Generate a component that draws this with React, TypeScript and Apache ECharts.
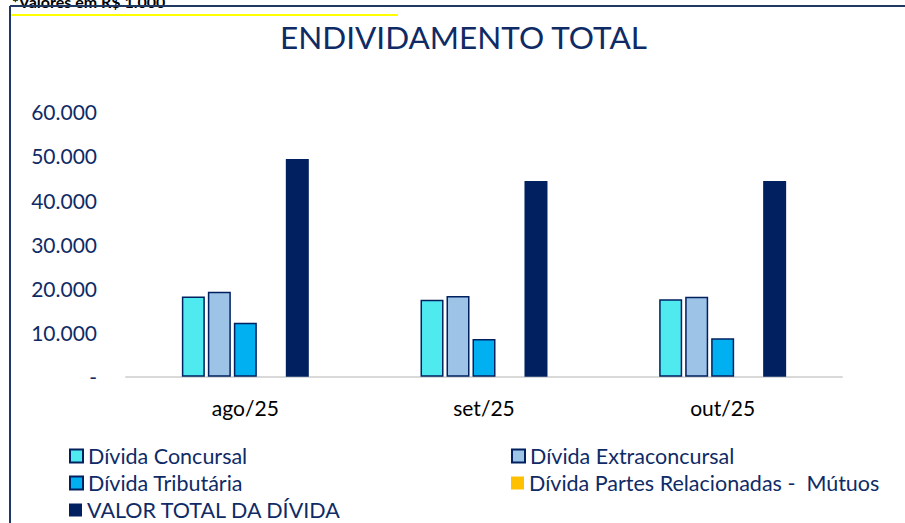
import React, { useEffect, useRef } from "react";
import * as echarts from "echarts";

const categories = ["ago/25", "set/25", "out/25"];
const seriesNames = [
  "Dívida Concursal",
  "Dívida Extraconcursal",
  "Dívida Tributária",
  "Dívida Partes Relacionadas -  Mútuos",
  "VALOR TOTAL DA DÍVIDA",
];
const concursal = [18180, 17400, 17520];
const extraconcursal = [19240, 18250, 18120];
const tributaria = [12220, 8560, 8680];
const partesRelacionadas = [0, 0, 0];
const valorTotal = [49300, 44300, 44300];
const yTicks = [0, 10000, 20000, 30000, 40000, 50000, 60000];

const seriesData = [concursal, extraconcursal, tributaria, partesRelacionadas, valorTotal];
const seriesColors = ["#4FEAF0", "#9DC3E6", "#00B0F0", "#FFC000", "#002060"];
const hasBorder = [true, true, true, false, false];

const NAVY = "#0F2B66";
const FONT = "Lato, 'Noto Sans', sans-serif";

// legend layout: [series index, left, top]
const legendSlots: [number, number, number][] = [
  [0, 64, 440],
  [1, 506, 440],
  [2, 64, 467],
  [3, 506, 467],
  [4, 64, 494],
];

export default function App() {
  const ref = useRef<HTMLDivElement>(null);
  useEffect(() => {
    if (!ref.current) return;
    const chart = echarts.init(ref.current, undefined, { renderer: "svg" });
    const fmt = (v: number) =>
      v === 0 ? "-" : v.toString().replace(/\B(?=(\d{3})+(?!\d))/g, ".");
    chart.setOption({
      animation: false,
      backgroundColor: "#ffffff",
      title: {
        text: "ENDIVIDAMENTO TOTAL",
        left: 275,
        top: 16,
        textStyle: { fontFamily: FONT, fontSize: 31.5, fontWeight: "normal", color: NAVY },
      },
      graphic: [
        {
          type: "text",
          left: 12,
          top: -7,
          style: {
            text: "*Valores em R$ 1.000",
            font: "bold 16px " + FONT,
            fill: "#000000",
          },
        },
        {
          type: "line",
          shape: { x1: 10, y1: 6, x2: 905, y2: 6 },
          style: { stroke: "#1F3864", lineWidth: 2 },
        },
        {
          type: "line",
          shape: { x1: 10, y1: 6, x2: 10, y2: 523 },
          style: { stroke: "#1F3864", lineWidth: 2 },
        },
        {
          type: "line",
          shape: { x1: 11, y1: 15, x2: 398, y2: 15 },
          style: { stroke: "#FFFF00", lineWidth: 2 },
        },
      ],
      legend: legendSlots.map(([idx, left, top]) => ({
        orient: "horizontal",
        left,
        top,
        icon: "rect",
        itemWidth: 13,
        itemHeight: 13,
        data: [seriesNames[idx]],
        textStyle: { fontFamily: FONT, fontSize: 21.5, color: NAVY, lineHeight: 22 },
      })),
      grid: { left: 126, right: 63, top: 111.7, bottom: 146.3, containLabel: false },
      xAxis: {
        type: "category",
        data: categories,
        axisLine: { lineStyle: { color: "#D9D9D9", width: 2 } },
        axisTick: { show: false },
        axisLabel: { fontFamily: FONT, fontSize: 21, color: "#000000", margin: 20 },
      },
      yAxis: {
        type: "value",
        min: yTicks[0],
        max: yTicks[yTicks.length - 1],
        interval: 10000,
        splitLine: { show: false },
        axisLine: { show: false },
        axisTick: { show: false },
        axisLabel: {
          fontFamily: FONT,
          fontSize: 21,
          color: NAVY,
          margin: 29,
          formatter: (v: number) => fmt(v),
        },
      },
      series: seriesNames.map((name, i) => ({
        name,
        type: "bar",
        data: seriesData[i],
        barWidth: 23,
        barGap: "13%",
        itemStyle: {
          color: seriesColors[i],
          borderColor: hasBorder[i] ? "#002060" : seriesColors[i],
          borderWidth: hasBorder[i] ? 1.5 : 0,
        },
      })),
    });
    return () => chart.dispose();
  }, []);
  return (
    <div
      ref={ref}
      style={{ position: "fixed", left: 0, top: 0, width: 905, height: 523 }}
    />
  );
}
